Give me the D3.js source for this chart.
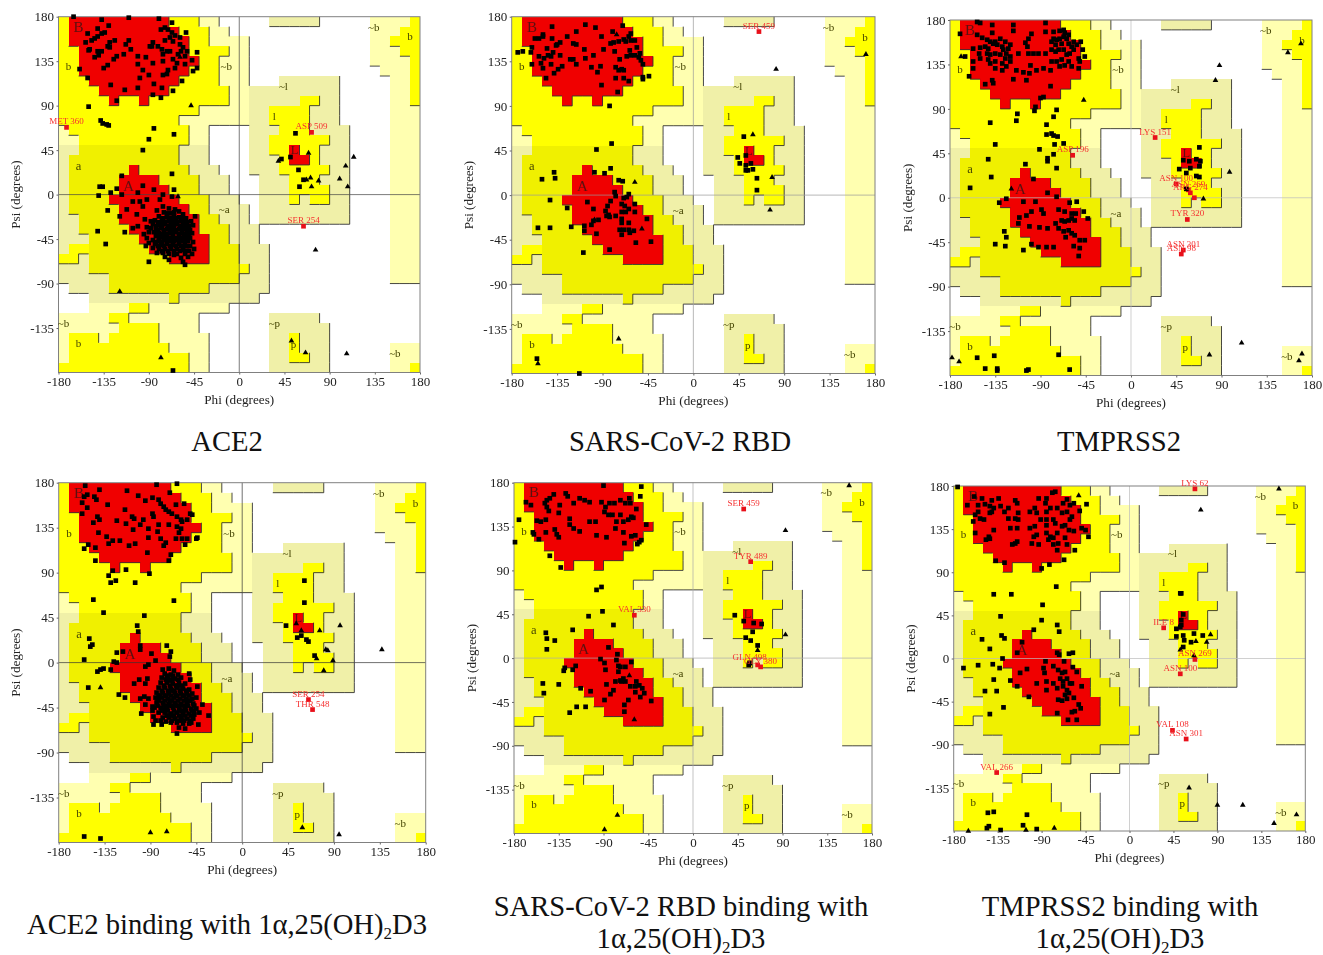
<!DOCTYPE html>
<html>
<head>
<meta charset="utf-8">
<script src="https://cdnjs.cloudflare.com/ajax/libs/d3/7.8.5/d3.min.js"></script>
<style>
  html, body { margin:0; padding:0; background:#fff; }
  svg { display:block; }
  text { font-family:"Liberation Serif", serif; }
  .plot { filter:blur(0.45px); }
</style>
</head>
<body>
<svg id="chart" width="1323" height="955"></svg>
<script>
/* Ramachandran regions: one row per 10 degrees of psi, top to bottom, run lengths along phi
   R core, Y allowed, D allowed (alpha side), G generous olive, P generous pale, . empty */
const regionRows = [
  'Y1 R10 Y3 P2 .5 G5 .5 P4 Y1',
  'Y1 R11 Y3 P2 .14 P3 Y2',
  'Y1 R12 Y2 P4 .12 P2 Y3',
  'Y2 R11 Y4 P2 .12 P3 Y2',
  'Y2 R12 Y2 P3 .12 P4 Y1',
  'Y2 R11 Y3 P3 .13 P3 Y1',
  'Y3 R9 Y4 P3 .3 G6 .5 P2 Y1',
  'Y4 R7 Y6 P2 G9 .5 P2 Y1',
  'Y5 R1 Y2 R1 Y8 P2 G5 Y2 G2 .5 P2 Y1',
  'Y14 P5 G2 Y4 G3 .5 P3',
  'Y12 P7 G2 Y4 G3 .5 P3',
  'P1 Y12 P2 .4 G3 Y3 G4 .4 P3',
  'P2 Y11 P2 .4 G2 Y6 G2 .4 P3',
  'G2 D10 G3 .4 G2 Y2 R1 Y2 G3 .4 P3',
  'G1 D11 G3 .4 G3 Y1 R2 Y1 G3 .4 P3',
  'G1 D6 R1 D5 G3 .3 G3 Y5 G2 .4 P3',
  'G1 D5 R4 D4 G3 .3 G3 Y3 G3 .4 P3',
  'G1 D5 R5 D3 G3 .3 G3 Y4 G2 .4 P3',
  'G1 D4 R7 D3 G3 .2 G3 Y1 G1 Y2 G2 .4 P3',
  'G1 D5 R7 D2 G4 .1 G9 .4 P3',
  'G2 D4 R8 D2 G3 .1 G9 .4 P3',
  'G2 D5 R7 D3 G3 .13 P3',
  'G3 D5 R7 D2 G3 .13 P3',
  'G1 Y2 D6 R6 D3 G3 .12 P3',
  'Y2 G1 D8 R4 D3 G3 .12 P3',
  'G3 D15 Y1 G2 .12 P3',
  'G5 D13 G3 .12 P3',
  '.1 G4 D10 G6 .15',
  '.3 G8 D1 G8 .16',
  '.3 P4 Y2 P8 .19',
  'P5 Y2 P7 .7 G5 .10',
  'P6 Y4 P4 .7 G6 .9',
  'P1 Y3 P1 Y5 P5 .6 G2 Y1 G3 .9',
  'P1 Y10 P4 .6 G2 Y1 G3 .6 P3',
  'P1 Y12 P2 .6 G2 Y2 G2 .6 P3',
  'Y13 P2 .6 G6 .6 P2 Y1'
];
const regionColors = { R:'#f00000', Y:'#ffff00', D:'#f0f000', G:'#f0f0a8', P:'#ffffb0' };
const regionLevels = { R:3, Y:2, D:2, G:1, P:1, '.':0 };

const phiTicks = [-180, -135, -90, -45, 0, 45, 90, 135, 180];
const psiTicks = [-135, -90, -45, 0, 45, 90, 135, 180];
const regionLabelNames = ['B','b','~b','~b','b','~l','l','L','a','A','~a','~b','b','~p','p','~b'];
const regionLabelPhi   = [-160,-170,-13,134,170,44,35,55,-160,-110,-15,-175,-160,35,54,155];
const regionLabelPsi   = [170,130,130,170,160,110,80,45,29,9,-15,-130,-150,-130,-151,-160];

// ACE2
const ace2Squares = [[-165,180],[-137,177],[-110,179],[-80,178],[-67,174],[-130,171],[-141,168],[-151,163],[-53,164],[-78,167],[-74,169],[-71,167],[-67,164],[-64,161],[-59,159],[-134,164],[-137,163],[-141,160],[-144,158],[-147,156],[-153,154],[-129,154],[-131,150],[-124,156],[-110,156],[-113,152],[-149,147],[-150,146],[-141,145],[-137,145],[-144,139],[-140,141],[-129,149],[-122,140],[-125,137],[-115,142],[-108,147],[-101,140],[-93,139],[-101,132],[-86,154],[-87,150],[-89,150],[-81,150],[-77,147],[-74,156],[-69,159],[-66,155],[-72,145],[-69,145],[-76,142],[-66,137],[-76,135],[-59,152],[-56,149],[-52,145],[-42,144],[-58,145],[-61,142],[-54,140],[-47,136],[-42,128],[-46,125],[-54,132],[-62,133],[-64,128],[-71,126],[-76,121],[-72,122],[-57,115],[-86,133],[-96,126],[-90,121],[-99,118],[-85,112],[-77,108],[-66,105],[-101,108],[-114,106],[-128,111],[-135,128],[-131,131],[-159,127],[-151,118],[-86,101],[-78,98],[-122,95],[-150,89],[-138,75],[-136,72],[-132,71],[-130,70],[-85,67],[-65,61],[-90,56],[-96,45],[56,62],[51,38],[42,36],[59,25],[64,15],[60,8],[-117,19],[-139,8],[-136,8],[-140,-1],[-128,2],[-122,6],[-117,0],[-96,9],[-85,5],[-67,21],[-65,5],[-131,-16],[-141,-37],[-133,-50],[-114,-38],[-90,-68],[-65,-61],[-54,-71],[-66,-178],[-106,-7],[-101,2],[-102,-20],[-112,-15],[-99,-7],[-96,-12],[-76,0],[-79,-5],[-67,-2],[-92,-5],[-106,-34],[-119,-22],[-101,-32],[-94,-25],[-44,-22]];
const ace2Cluster = [[-70,-14],[-64,-15],[-60,-17],[-75,-18],[-68,-19],[-56,-20],[-80,-22],[-72,-23],[-65,-22],[-60,-23],[-53,-24],[-84,-26],[-77,-26],[-70,-27],[-66,-26],[-58,-27],[-52,-28],[-48,-27],[-86,-30],[-80,-31],[-74,-30],[-68,-31],[-62,-30],[-56,-31],[-50,-32],[-46,-31],[-88,-34],[-83,-35],[-78,-34],[-72,-35],[-66,-34],[-60,-35],[-54,-35],[-49,-36],[-85,-38],[-80,-39],[-75,-38],[-69,-39],[-63,-38],[-57,-39],[-52,-40],[-47,-39],[-83,-42],[-78,-43],[-72,-42],[-66,-43],[-60,-42],[-54,-43],[-49,-44],[-86,-46],[-80,-47],[-75,-46],[-69,-47],[-63,-46],[-57,-47],[-51,-47],[-46,-48],[-90,-49],[-84,-50],[-78,-51],[-72,-50],[-66,-51],[-60,-50],[-55,-52],[-49,-52],[-93,-52],[-86,-54],[-80,-55],[-74,-55],[-68,-55],[-62,-55],[-56,-56],[-50,-57],[-45,-55],[-82,-59],[-76,-59],[-70,-60],[-62,-60],[-54,-60],[-47,-60],[-74,-63],[-58,-64],[-51,-63],[-70,-66],[-56,-68],[-92,-44],[-95,-40],[-90,-38],[-76,-12],[-82,-16],[-88,-27],[-92,-33],[-74,-40],[-67,-37],[-61,-45],[-70,-33],[-64,-28],[-73,-45],[-65,-47],[-58,-33],[-77,-30],[-55,-44],
  [-76,-24],[-69,-24],[-63,-24],[-57,-24],[-81,-28],[-74,-28],[-68,-28],[-62,-28],[-55,-28],[-83,-32],[-77,-32],[-71,-32],[-65,-32],[-59,-32],[-53,-32],[-81,-36],[-75,-36],[-69,-36],[-63,-36],[-57,-36],[-52,-36],[-82,-40],[-77,-40],[-72,-40],[-66,-40],[-60,-40],[-55,-40],[-50,-40],[-80,-44],[-75,-44],[-69,-44],[-63,-44],[-57,-44],[-52,-44],[-83,-48],[-77,-48],[-72,-48],[-66,-48],[-60,-48],[-54,-48],[-81,-52],[-75,-52],[-69,-52],[-63,-52],[-58,-52],[-52,-52],[-77,-57],[-71,-57],[-65,-57],[-59,-57],[-53,-57],[-72,-19],[-65,-18]];
const ace2Triangles = [[-48,90],[-59,139],[69,42],[39,34],[71,17],[67,15],[79,14],[72,8],[114,38],[106,29],[100,16],[108,8],[-61,-2],[76,-56],[-119,-98],[52,-148],[66,-160],[107,-161],[-78,-165]];
const ace2Outliers = [[-172,68],[72,63],[64,-32]];
const ace2OutlierNames = ['MET 360','ASP 509','SER 254'];

// SARS-CoV-2 RBD
const rbdSquares = [[-70,171],[-107,172],[-97,169],[-140,170],[-116,165],[-80,165],[-149,162],[-149,160],[-157,158],[-153,158],[-140,158],[-125,160],[-91,160],[-62,163],[-64,160],[-69,157],[-67,155],[-62,156],[-58,156],[-79,154],[-82,153],[-74,155],[-119,153],[-116,152],[-132,154],[-135,152],[-136,151],[-160,149],[-145,148],[-108,147],[-89,147],[-78,145],[-63,146],[-56,149],[-174,144],[-169,145],[-161,144],[-139,144],[-144,141],[-153,140],[-148,138],[-141,140],[-132,141],[-122,137],[-119,137],[-107,138],[-99,141],[-73,137],[-66,140],[-62,141],[-58,141],[-53,143],[-54,139],[-52,136],[-160,132],[-151,133],[-149,128],[-141,132],[-130,130],[-134,127],[-138,123],[-116,132],[-101,129],[-92,130],[-95,124],[-77,129],[-74,126],[-71,127],[-69,126],[-50,132],[-77,118],[-69,118],[-64,115],[-146,118],[-91,111],[-75,104],[-50,119],[-50,117],[-44,120],[-83,90],[-81,52],[-96,46],[-82,27],[-98,23],[-88,22],[-74,15],[-70,14],[-138,23],[-137,17],[-150,16],[-142,-5],[-125,-13],[-105,-7],[-99,-14],[-78,3],[-77,-1],[-64,1],[-69,-3],[-66,-2],[-82,-6],[-58,-9],[-85,-11],[-71,-9],[-68,-11],[-64,-14],[-71,-17],[-67,-17],[-58,-17],[-87,-16],[-84,-20],[-83,-22],[-77,-21],[-46,-24],[-86,-21],[-71,-24],[-71,-28],[-64,-28],[-94,-25],[-99,-26],[-101,-30],[-108,-31],[-108,-36],[-121,-32],[-154,-33],[-142,-33],[-73,-35],[-69,-35],[-71,-40],[-64,-35],[-63,-38],[-59,-36],[-96,-39],[-57,-48],[-42,-47],[-83,-55],[-109,-58],[-155,-165],[-113,-180],[50,59],[52,40],[44,38],[46,32],[52,30],[57,32],[52,25],[54,25],[59,26],[63,17],[63,5]];
const rbdTriangles = [[-76,162],[-58,13],[-51,-34],[-98,-25],[59,61],[78,18],[76,-15],[82,127],[171,142],[-74,-145],[-154,-170]];
const rbdOutliers = [[65,165]];
const rbdOutlierNames = ['SER 459'];

// TMPRSS2
const tmprssSquares = [[-153,178],[-150,177],[-170,166],[-138,175],[-117,175],[-117,169],[-85,177],[-85,168],[-77,168],[-71,169],[-67,170],[-66,167],[-62,165],[-153,165],[-148,162],[-143,160],[-138,167],[-140,158],[-135,158],[-130,161],[-125,158],[-120,155],[-102,161],[-99,166],[-105,157],[-77,161],[-79,158],[-74,160],[-71,161],[-67,163],[-64,161],[-75,155],[-69,156],[-62,156],[-57,158],[-50,158],[-48,150],[-54,155],[-59,153],[-165,143],[-157,151],[-150,152],[-145,153],[-142,151],[-137,156],[-133,155],[-128,153],[-127,150],[-124,146],[-122,151],[-112,146],[-103,153],[-102,146],[-97,146],[-92,146],[-85,146],[-79,150],[-75,148],[-72,150],[-67,150],[-64,145],[-61,146],[-57,150],[-52,141],[-46,143],[-151,146],[-143,146],[-140,145],[-135,146],[-130,145],[-125,141],[-120,143],[-157,138],[-157,131],[-150,141],[-142,140],[-140,136],[-135,138],[-128,136],[-124,133],[-120,138],[-128,129],[-135,131],[-114,129],[-107,127],[-100,134],[-101,126],[-94,129],[-87,131],[-79,138],[-80,129],[-74,138],[-69,140],[-71,133],[-66,134],[-62,138],[-59,133],[-52,131],[-51,138],[-161,123],[-145,115],[-137,116],[-138,119],[-117,120],[-104,119],[-80,113],[-87,102],[-90,101],[-95,92],[-96,88],[-113,85],[-114,78],[-74,89],[-77,82],[-140,76],[-84,74],[-84,64],[-79,65],[-77,63],[-73,62],[-76,54],[-67,55],[-91,49],[-135,54],[-83,40],[-83,37],[-77,44],[-74,30],[-105,34],[-142,39],[-139,21],[-160,10],[-97,19],[-83,5],[-74,1],[-54,-4],[-61,-5],[-131,-5],[-124,-1],[-107,-4],[-95,-4],[-72,-12],[-66,-14],[-59,-16],[-55,-16],[-47,-14],[-43,-21],[-89,-12],[-87,-16],[-99,-14],[-104,-18],[-111,-20],[-112,-26],[-101,-29],[-91,-30],[-83,-31],[-75,-26],[-69,-23],[-66,-24],[-62,-23],[-59,-21],[-56,-23],[-72,-31],[-67,-34],[-62,-33],[-59,-36],[-65,-40],[-56,-38],[-51,-43],[-46,-43],[-51,-51],[-57,-49],[-52,-59],[-77,-50],[-84,-50],[-92,-50],[-99,-47],[-107,-53],[-135,-47],[-125,-49],[-126,-34],[-124,-40],[68,51],[52,38],[58,37],[65,39],[69,37],[68,32],[59,30],[48,29],[55,25],[65,22],[68,21],[55,9],[-72,-159],[-61,-174],[-153,-162],[-136,-160],[-145,-173],[-133,-173],[-133,-175],[-104,-175],[-102,-174]];
const tmprssTriangles = [[-169,143],[-47,99],[-119,9],[98,26],[72,-1],[88,134],[84,119],[156,147],[169,156],[-178,-162],[-171,-166],[78,-159],[110,-147],[167,-165],[170,-158]];
const tmprssOutliers = [[24,61],[-58,43],[45,14],[57,8],[59,5],[63,0],[56,-22],[52,-53],[50,-57]];
const tmprssOutlierNames = ['LYS 151','ASP 196','ASN 100','ASN 269','ARG 274','','TYR 320','ASN 301','ASN 98'];

// ACE2 + 1a,25(OH)2D3
const ace2LigSquares = [[-154,177],[-140,173],[-113,172],[-84,178],[-64,179],[-71,170],[-152,168],[-155,166],[-145,166],[-143,163],[-157,160],[-152,155],[-132,158],[-157,149],[-102,167],[-95,162],[-88,165],[-82,163],[-80,159],[-77,156],[-65,158],[-57,159],[-115,153],[-108,146],[-106,144],[-114,139],[-123,142],[-142,146],[-140,143],[-146,140],[-141,130],[-97,143],[-88,149],[-87,146],[-75,153],[-72,151],[-69,149],[-64,146],[-60,143],[-59,141],[-51,149],[-49,148],[-54,143],[-72,138],[-82,138],[-83,131],[-92,134],[-100,138],[-107,133],[-64,136],[-60,134],[-62,130],[-54,124],[-44,125],[-45,124],[-56,118],[-59,124],[-65,124],[-75,120],[-80,124],[-92,125],[-77,117],[-105,119],[-111,117],[-120,122],[-127,122],[-131,119],[-133,126],[-151,118],[-155,114],[-144,115],[-93,110],[-70,108],[-72,102],[-144,102],[-127,92],[-114,93],[-91,89],[-131,87],[-124,82],[-129,80],[-105,80],[-146,63],[-67,62],[-136,50],[-96,47],[-103,37],[-102,31],[-150,24],[-147,18],[-149,16],[-155,3],[-100,17],[-100,13],[-74,17],[-70,11],[-71,6],[-89,9],[-123,10],[-117,11],[-126,1],[-123,0],[-129,-7],[-142,-9],[-139,-7],[-136,-6],[-151,-25],[-121,-32],[-115,-35],[-106,-21],[-101,-17],[-93,-16],[-95,-21],[-92,-2],[-95,-4],[-85,2],[-78,-7],[-52,-11],[-51,-17],[-44,-24],[-39,-42],[-33,-53],[-43,-62],[-64,-71],[-99,-51],[-87,-54],[-87,-62],[-79,-62],[-96,-34],[-100,-36],[-92,-36],[-95,-42],[-88,-44],[61,82],[61,60],[43,37],[54,25],[58,27],[63,23],[65,21],[71,7],[-155,-174],[-139,-176]];
const ace2LigCluster = [[-72,-6],[-67,-8],[-76,-11],[-70,-12],[-63,-12],[-79,-15],[-73,-16],[-66,-16],[-60,-15],[-80,-20],[-74,-20],[-68,-21],[-62,-20],[-56,-21],[-82,-25],[-76,-25],[-70,-26],[-64,-25],[-58,-26],[-52,-27],[-84,-30],[-78,-30],[-72,-31],[-66,-30],[-60,-31],[-54,-31],[-49,-31],[-85,-35],[-79,-35],[-73,-36],[-67,-35],[-61,-36],[-55,-36],[-49,-36],[-45,-35],[-84,-40],[-78,-40],[-72,-41],[-66,-40],[-60,-41],[-54,-41],[-48,-41],[-86,-45],[-80,-45],[-74,-46],[-68,-45],[-62,-46],[-56,-46],[-50,-46],[-45,-46],[-82,-50],[-76,-50],[-70,-51],[-64,-50],[-58,-51],[-52,-51],[-47,-50],[-78,-55],[-72,-55],[-66,-56],[-60,-55],[-54,-56],[-48,-56],[-70,-60],[-64,-60],[-58,-61],[-52,-61],[-62,-65],[-56,-66],[-75,-59],[-80,-58],[-71,-18],[-65,-33],[-75,-33],[-69,-43],[-59,-48],[-77,-47],[-63,-23],[-69,-28],[-55,-43],[-81,-33],[-71,-38],[-63,-43],[-67,-53],[-57,-33],[-75,-43],[-83,-37],[-61,-28],[-53,-38],[-73,-53],[-59,-58],[-47,-52],[-88,-48],[-42,-50],[-50,-60],[-85,-58],
  [-74,-13],[-68,-13],[-75,-17],[-69,-17],[-63,-17],[-77,-23],[-71,-23],[-65,-23],[-59,-23],[-79,-28],[-73,-28],[-67,-28],[-61,-28],[-55,-28],[-82,-33],[-76,-33],[-70,-33],[-64,-33],[-58,-33],[-52,-33],[-82,-38],[-76,-38],[-69,-38],[-63,-38],[-57,-38],[-51,-38],[-83,-43],[-77,-43],[-71,-43],[-65,-43],[-59,-43],[-53,-43],[-47,-43],[-79,-48],[-73,-48],[-67,-48],[-61,-48],[-55,-48],[-49,-48],[-74,-53],[-68,-53],[-62,-53],[-56,-53],[-50,-53],[-69,-58],[-63,-58],[-57,-58],[-51,-58]];
const ace2LigTriangles = [[-139,-25],[-90,-170],[-74,-169],[53,39],[58,32],[76,32],[96,37],[82,13],[84,12],[73,4],[89,2],[80,-8],[137,13],[59,-165],[95,-172]];
const ace2LigOutliers = [[65,-37],[69,-47]];
const ace2LigOutlierNames = ['SER 254','THR 548'];

// SARS-CoV-2 RBD + 1a,25(OH)2D3
const rbdLigSquares = [[-90,177],[-52,176],[-53,166],[-140,168],[-144,164],[-147,162],[-128,169],[-126,166],[-120,159],[-168,160],[-163,157],[-149,159],[-147,155],[-145,151],[-134,157],[-135,149],[-114,164],[-109,162],[-104,160],[-92,160],[-84,159],[-79,159],[-73,162],[-68,159],[-64,164],[-63,159],[-57,153],[-88,155],[-89,150],[-85,147],[-81,147],[-73,147],[-77,140],[-70,140],[-65,142],[-62,145],[-60,144],[-47,137],[-175,142],[-157,141],[-153,140],[-148,142],[-124,143],[-124,137],[-120,133],[-114,130],[-104,140],[-98,140],[-78,133],[-70,129],[-62,125],[-58,126],[-97,126],[-87,124],[-161,129],[-160,127],[-148,129],[-139,132],[-137,127],[-135,124],[-155,122],[-179,119],[-69,118],[-52,121],[-54,119],[-56,117],[-144,105],[-133,93],[-97,70],[-92,73],[-91,48],[-105,43],[-80,34],[-121,29],[-148,26],[-147,20],[-139,18],[-147,9],[-85,11],[-76,4],[-93,-1],[-89,-5],[-88,-12],[-77,-2],[-75,-8],[-73,-9],[-68,-9],[-62,-4],[-75,-14],[-118,-8],[-121,-12],[-129,-10],[-130,-13],[-135,-27],[-151,-26],[-150,-36],[-113,-31],[-103,-34],[-117,-50],[-108,-50],[-124,-56],[-89,-43],[-83,-37],[-80,-33],[-87,-27],[-78,-24],[-73,-23],[-70,-21],[-72,-24],[-68,-24],[-63,-29],[-58,-29],[-57,-24],[-54,-28],[-51,-31],[-49,-36],[-53,-40],[-58,-35],[-65,-43],[-69,-48],[-69,-55],[-42,-44],[42,44],[51,38],[61,36],[69,35],[60,27],[53,21],[58,18],[65,13],[57,-5],[56,-7]];
const rbdLigTriangles = [[157,177],[93,131],[-64,-18],[-59,-63],[93,24],[65,8],[-76,-161],[-89,-176]];
const rbdLigOutliers = [[51,153],[58,99],[-59,44],[57,-5],[68,-9],[65,-7]];
const rbdLigOutlierNames = ['SER 459','TYR 489','VAL 330','GLN 498','GLY 380',''];

// TMPRSS2 + 1a,25(OH)2D3
const tmprssLigSquares = [[-176,179],[-44,161],[-76,174],[-79,173],[-85,167],[-86,162],[-93,167],[-117,165],[-115,162],[-134,167],[-141,165],[-151,167],[-159,169],[-166,160],[-155,160],[-148,161],[-143,159],[-139,157],[-132,159],[-128,153],[-155,153],[-158,150],[-160,143],[-153,146],[-149,145],[-143,152],[-141,153],[-124,157],[-114,152],[-117,146],[-114,145],[-124,146],[-102,153],[-97,157],[-95,152],[-85,153],[-81,157],[-74,157],[-68,162],[-64,166],[-61,160],[-57,162],[-51,154],[-69,152],[-64,153],[-59,148],[-61,145],[-85,145],[-91,145],[-78,145],[-76,141],[-85,139],[-97,138],[-102,136],[-122,136],[-115,136],[-139,134],[-158,131],[-144,127],[-147,124],[-143,125],[-98,127],[-95,129],[-100,120],[-93,119],[-85,131],[-81,127],[-83,124],[-78,126],[-74,131],[-69,138],[-66,139],[-62,134],[-57,133],[-49,136],[-45,134],[-42,127],[-66,126],[-73,120],[-78,119],[-74,113],[-64,119],[-56,113],[-115,122],[-120,119],[-117,120],[-137,102],[-128,100],[-90,94],[-82,98],[-67,103],[-75,75],[-139,67],[-121,67],[-89,56],[-132,44],[-90,40],[-98,30],[-74,35],[-72,28],[-131,24],[-128,21],[-151,20],[-143,10],[-130,0],[-110,17],[-115,6],[-155,-7],[-170,-10],[-140,-6],[-133,-10],[-139,-22],[-148,-34],[-136,-34],[-122,-23],[-112,-15],[-105,-11],[-115,-29],[-103,-40],[-129,-51],[-143,-58],[-74,6],[-72,4],[-62,5],[-58,6],[-86,-3],[-78,-8],[-58,-9],[-67,-3],[-88,-10],[-87,-15],[-73,-12],[-69,-15],[-66,-14],[-54,-14],[-95,-26],[-85,-24],[-78,-26],[-71,-21],[-68,-24],[-64,-21],[-61,-26],[-74,-31],[-68,-29],[-64,-33],[-59,-26],[-49,-29],[-85,-33],[-66,-38],[-62,-36],[-73,-43],[-69,-44],[-64,-42],[-57,-41],[-52,-48],[-50,-52],[-56,-55],[-59,-56],[-74,-57],[-63,-64],[-54,-64],[55,46],[53,40],[52,33],[48,31],[48,23],[55,24],[56,19],[66,26],[75,24],[63,17],[55,12],[53,35],[52,68],[53,68],[-145,-161],[-139,-160],[-105,-163],[-109,-174],[-144,-175],[-146,-177],[-132,-179],[-95,-178]];
const tmprssLigTriangles = [[-52,170],[153,177],[73,155],[83,25],[68,18],[79,17],[52,9],[66,3],[61,-135],[90,-153],[116,-153],[171,-163],[148,-172],[-77,-177],[-165,-180],[-106,-179]];
const tmprssLigOutliers = [[67,177],[35,32],[67,-1],[52,-16],[44,-75],[58,-84],[-136,-119]];
const tmprssLigOutlierNames = ['LYS 62','ILE 8','ASN 269','ASN 100','VAL 108','ASN 301','VAL 266'];

const panels = [
  { box:[58.5,420,16.7,372.5],    cross:'#444', squares:ace2Squares.concat(ace2Cluster), triangles:ace2Triangles, outliers:ace2Outliers, names:ace2OutlierNames },
  { box:[511.7,875,16.7,373.5],   cross:'#999', squares:rbdSquares, triangles:rbdTriangles, outliers:rbdOutliers, names:rbdOutlierNames },
  { box:[950,1312,20,375.5],      cross:'#bbb', squares:tmprssSquares, triangles:tmprssTriangles, outliers:tmprssOutliers, names:tmprssOutlierNames },
  { box:[58.7,425.7,482.7,842.5], cross:'#333', squares:ace2LigSquares.concat(ace2LigCluster), triangles:ace2LigTriangles, outliers:ace2LigOutliers, names:ace2LigOutlierNames },
  { box:[514,872,482.7,833.5],    cross:'#aaa', squares:rbdLigSquares, triangles:rbdLigTriangles, outliers:rbdLigOutliers, names:rbdLigOutlierNames },
  { box:[953.7,1305.3,486,831],   cross:'#bbb', squares:tmprssLigSquares, triangles:tmprssLigTriangles, outliers:tmprssLigOutliers, names:tmprssLigOutlierNames }
];

const SUB = '1α,25(OH)|2|D3';
const captions = [
  { x:227,  y:451, lines:['ACE2'] },
  { x:680,  y:451, lines:['SARS-CoV-2 RBD'] },
  { x:1119, y:451, lines:['TMPRSS2'] },
  { x:227,  y:934, lines:['ACE2 binding with ' + SUB] },
  { x:681,  y:916, lines:['SARS-CoV-2 RBD binding with', SUB] },
  { x:1120, y:916, lines:['TMPRSS2 binding with', SUB] }
];

// expand the run lengths into a flat cell list
const cells = [];
regionRows.forEach((row, r) => {
  let c = 0;
  row.split(' ').forEach(run => {
    const k = run[0], n = +run.slice(1);
    for (let i = 0; i < n; i++, c++) cells.push({ r, c, k });
  });
});
const grid = regionRows.map(() => []);
cells.forEach(d => { grid[d.r][d.c] = d.k; });
const level = (r, c) => {
  const k = grid[r] && grid[r][c];
  return k === undefined ? -1 : regionLevels[k];
};

const svg = d3.select('#chart');

function drawPanel(p) {
  const [x0, x1, y0, y1] = p.box;
  const x = d3.scaleLinear().domain([-180, 180]).range([x0, x1]);
  const y = d3.scaleLinear().domain([180, -180]).range([y0, y1]);
  const g = svg.append('g').attr('class', 'plot');

  // region cells
  g.append('g').attr('shape-rendering', 'crispEdges').selectAll('rect')
    .data(cells.filter(d => d.k !== '.'))
    .join('rect')
    .attr('x', d => x(-180 + d.c * 10))
    .attr('y', d => y(180 - d.r * 10))
    .attr('width', d => x(-170 + d.c * 10) - x(-180 + d.c * 10))
    .attr('height', d => y(170 - d.r * 10) - y(180 - d.r * 10))
    .attr('fill', d => regionColors[d.k]);

  // dark edge on the right and bottom side where the region level drops
  const edges = [];
  cells.forEach(d => {
    const lv = level(d.r, d.c);
    const left = -180 + d.c * 10, top = 180 - d.r * 10;
    if (lv > level(d.r, d.c + 1) && level(d.r, d.c + 1) >= 0)
      edges.push([left + 10, top, left + 10, top - 10]);
    if (lv > level(d.r + 1, d.c) && level(d.r + 1, d.c) >= 0)
      edges.push([left, top - 10, left + 10, top - 10]);
  });
  g.append('g').selectAll('line')
    .data(edges)
    .join('line')
    .attr('x1', d => x(d[0])).attr('y1', d => y(d[1]))
    .attr('x2', d => x(d[2])).attr('y2', d => y(d[3]))
    .attr('stroke', '#333')
    .attr('stroke-width', 0.9);

  // zero lines
  g.append('line').attr('x1', x(0)).attr('x2', x(0)).attr('y1', y0).attr('y2', y1)
    .attr('stroke', p.cross).attr('stroke-width', 0.7);
  g.append('line').attr('x1', x0).attr('x2', x1).attr('y1', y(0)).attr('y2', y(0))
    .attr('stroke', p.cross).attr('stroke-width', 0.7);

  // frame
  g.append('rect').attr('x', x0).attr('y', y0)
    .attr('width', x1 - x0).attr('height', y1 - y0)
    .attr('fill', 'none').attr('stroke', '#808080').attr('stroke-width', 1);

  // region letters
  g.append('g').selectAll('text')
    .data(regionLabelNames)
    .join('text')
    .attr('x', (d, i) => x(regionLabelPhi[i]))
    .attr('y', (d, i) => y(regionLabelPsi[i]))
    .attr('text-anchor', 'middle')
    .attr('dominant-baseline', 'central')
    .attr('font-size', d => (d === 'A' || d === 'B') ? 15 : (d === 'L' || d === 'a') ? 12.5 : 11)
    .attr('fill', d => (d === 'A' || d === 'B' || d === 'L') ? '#5a1010' : '#444400')
    .text(d => d);

  // residues
  const square = d3.symbol().type(d3.symbolSquare).size(22);
  const triangle = d3.symbol().type(d3.symbolTriangle).size(14);

  g.append('g').selectAll('path')
    .data(p.outliers)
    .join('path')
    .attr('d', square)
    .attr('transform', d => `translate(${x(d[0])},${y(d[1])})`)
    .attr('fill', '#e8101a');
  g.append('g').selectAll('path')
    .data(p.squares)
    .join('path')
    .attr('d', square)
    .attr('transform', d => `translate(${x(d[0])},${y(d[1])})`)
    .attr('fill', '#000');
  g.append('g').selectAll('path')
    .data(p.triangles)
    .join('path')
    .attr('d', triangle)
    .attr('transform', d => `translate(${x(d[0])},${y(d[1])})`)
    .attr('fill', '#000');

  // outlier names
  g.append('g').selectAll('text')
    .data(p.outliers)
    .join('text')
    .attr('x', d => x(d[0]))
    .attr('y', d => y(d[1]) - 3)
    .attr('text-anchor', 'middle')
    .attr('font-size', 9)
    .attr('fill', '#f53030')
    .text((d, i) => p.names[i]);

  // axes
  const xAxis = d3.axisBottom(x).tickValues(phiTicks).tickSize(2).tickPadding(2).tickFormat(String);
  const yAxis = d3.axisLeft(y).tickValues(psiTicks).tickSize(2).tickPadding(2.5).tickFormat(String);
  const gx = g.append('g').attr('transform', `translate(0,${y1})`).call(xAxis);
  const gy = g.append('g').attr('transform', `translate(${x0},0)`).call(yAxis);
  [gx, gy].forEach(a => {
    a.select('.domain').remove();
    a.selectAll('line').attr('stroke', '#666');
    a.selectAll('text').attr('font-family', '"Liberation Serif", serif').attr('font-size', 13).attr('fill', '#222');
  });

  g.append('text')
    .attr('x', (x0 + x1) / 2).attr('y', y1 + 31)
    .attr('text-anchor', 'middle').attr('font-size', 13.2).attr('fill', '#222')
    .text('Phi (degrees)');
  g.append('text')
    .attr('transform', `translate(${x0 - 38.5},${(y0 + y1) / 2}) rotate(-90)`)
    .attr('text-anchor', 'middle').attr('font-size', 13.2).attr('fill', '#222')
    .text('Psi (degrees)');
}

panels.forEach(drawPanel);

// captions, the | marks the subscript
captions.forEach(cap => {
  cap.lines.forEach((line, i) => {
    const t = svg.append('text')
      .attr('x', cap.x).attr('y', cap.y + i * 32)
      .attr('text-anchor', 'middle')
      .attr('font-size', 28.6)
      .attr('fill', '#111');
    line.split('|').forEach((part, j) => {
      const s = t.append('tspan').text(part);
      if (j === 1) s.attr('font-size', 17).attr('dy', 4.5);
      if (j === 2) s.attr('dy', -4.5);
    });
  });
});
</script>
</body>
</html>
